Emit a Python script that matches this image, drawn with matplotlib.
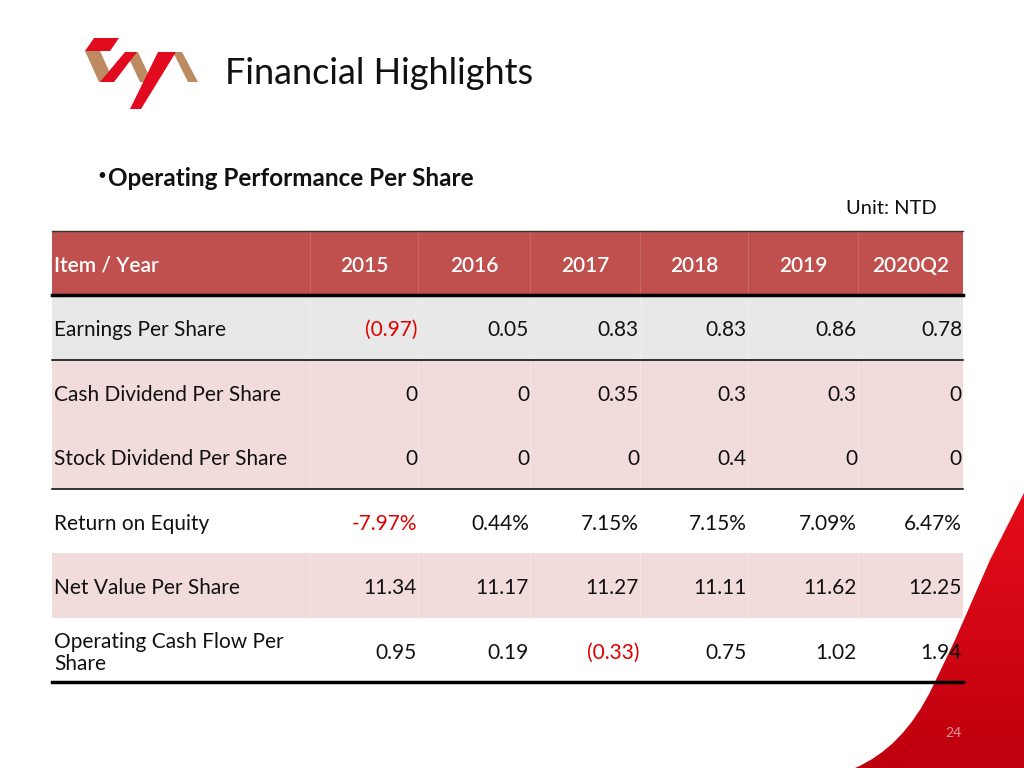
import matplotlib
matplotlib.use("Agg")
import matplotlib.pyplot as plt
from matplotlib.patches import Rectangle, Polygon, PathPatch
from matplotlib.path import Path
from matplotlib.colors import LinearSegmentedColormap
import numpy as np

plt.rcParams['font.family'] = ['Lato', 'DejaVu Sans']

title = "Financial Highlights"
subtitle = "Operating Performance Per Share"
unit = "Unit: NTD"
page = "24"

header_label = "Item / Year"
years = ["2015", "2016", "2017", "2018", "2019", "2020Q2"]
items = ["Earnings Per Share", "Cash Dividend Per Share", "Stock Dividend Per Share",
         "Return on Equity", "Net Value Per Share", "Operating Cash Flow Per\nShare"]
eps = ["(0.97)", "0.05", "0.83", "0.83", "0.86", "0.78"]
cash_div = ["0", "0", "0.35", "0.3", "0.3", "0"]
stock_div = ["0", "0", "0", "0.4", "0", "0"]
roe = ["-7.97%", "0.44%", "7.15%", "7.15%", "7.09%", "6.47%"]
nav = ["11.34", "11.17", "11.27", "11.11", "11.62", "12.25"]
ocf = ["0.95", "0.19", "(0.33)", "0.75", "1.02", "1.94"]
values = [eps, cash_div, stock_div, roe, nav, ocf]

fig = plt.figure(figsize=(10.24, 7.68), dpi=100)
ax = fig.add_axes([0, 0, 1, 1])
ax.set_xlim(0, 1024)
ax.set_ylim(768, 0)
ax.axis('off')

# table geometry
x0, x1 = 52, 963
col_edges = [52, 310, 418, 530, 640, 748, 858, 963]
header_top, header_bot = 231, 295
row_edges = [295, 359.5, 424, 488.5, 553, 617.5, 682]
row_fill = ['#E8E8E8', '#F2DCDB', '#F2DCDB', '#FFFFFF', '#F2DCDB', '#FFFFFF']

ax.add_patch(Rectangle((x0, header_top), x1 - x0, header_bot - header_top,
                       facecolor='#C0504D', edgecolor='none', zorder=1))
for i in range(len(items)):
    ax.add_patch(Rectangle((x0, row_edges[i]), x1 - x0, row_edges[i + 1] - row_edges[i],
                           facecolor=row_fill[i], edgecolor='none', zorder=1))
for xe in col_edges[1:-1]:
    ax.plot([xe, xe], [header_top, header_bot], color='#CB6663', lw=0.8, zorder=1.5)
    for i in range(len(items)):
        if row_fill[i] != '#FFFFFF':
            ax.plot([xe, xe], [row_edges[i], row_edges[i + 1]],
                    color='#F5E6E6' if row_fill[i] == '#F2DCDB' else '#EDEDED', lw=0.8, zorder=1.5)

# red decoration bottom right with gradient (above fills, below rules and text)
verts = [(1024, 493), (990, 560), (955, 640), (933, 686),
         (912, 730), (885, 755), (855, 768), (1024, 768), (1024, 493)]
codes = [Path.MOVETO, Path.LINETO, Path.LINETO, Path.LINETO,
         Path.CURVE4, Path.CURVE4, Path.CURVE4, Path.LINETO, Path.CLOSEPOLY]
patch = PathPatch(Path(verts, codes), facecolor='none', edgecolor='none')
ax.add_patch(patch)
grad = np.linspace(0, 1, 256).reshape(-1, 1)
cmap = LinearSegmentedColormap.from_list('r', ['#E60C1A', '#BE000E'])
im = ax.imshow(grad, cmap=cmap, extent=[850, 1024, 768, 490], aspect='auto', zorder=2)
im.set_clip_path(patch)

# horizontal rules
ax.plot([x0, x1], [header_top, header_top], color='#333333', lw=1.0, zorder=3)
ax.plot([x0, x1], [header_bot, header_bot], color='black', lw=2.5, zorder=3)
ax.plot([x0, x1], [row_edges[1], row_edges[1]], color='black', lw=1.1, zorder=3)
ax.plot([x0, x1], [row_edges[3], row_edges[3]], color='black', lw=1.1, zorder=3)
ax.plot([x0, x1], [row_edges[-1], row_edges[-1]], color='black', lw=2.5, zorder=3)

# logo
gold = '#BC8B62'
red = '#E20A1E'
gold_shapes = [
    [(85, 51), (100, 51), (114, 82), (99, 82)],
    [(126, 52), (138, 52), (152, 82), (140, 82)],
    [(173, 52), (182, 52), (198, 82), (188, 82)],
]
red_shapes = [
    [(85, 51), (94, 38), (119, 38), (110, 51)],
    [(100, 82), (114, 82), (137, 52), (125, 52)],
    [(158, 52), (176, 52), (141, 109), (130, 109)],
]
for pts in gold_shapes:
    ax.add_patch(Polygon(pts, closed=True, facecolor=gold, edgecolor='none', zorder=2))
for pts in red_shapes:
    ax.add_patch(Polygon(pts, closed=True, facecolor=red, edgecolor='none', zorder=2.5))

ax.text(225, 73, title, fontsize=26, color='#111111', va='center', ha='left')
ax.text(97, 176, "•", fontsize=11, color='#111111', va='center', ha='left')
ax.text(108, 178, subtitle, fontsize=17.5, fontweight='bold', color='#111111', va='center', ha='left')
ax.text(937, 208, unit, fontsize=14.5, color='#111111', va='center', ha='right')
ax.text(953, 733, page, fontsize=10, color='#D99A9A', va='center', ha='center', zorder=4)

fs = 15
hy = (header_top + header_bot) / 2 + 3
ax.text(54, hy, header_label, fontsize=fs, color='white', fontweight='semibold', va='center', ha='left', zorder=4)
for j, y in enumerate(years):
    cx = (col_edges[j + 1] + col_edges[j + 2]) / 2
    ax.text(cx, hy, y, fontsize=fs, color='white', fontweight='semibold', va='center', ha='center', zorder=4)

for i, (label, vals) in enumerate(zip(items, values)):
    cy = (row_edges[i] + row_edges[i + 1]) / 2 + 3
    ax.text(54, cy, label, fontsize=fs, color='#111111', va='center', ha='left',
            linespacing=1.15, zorder=4)
    for j, v in enumerate(vals):
        neg = v.startswith('(') or v.startswith('-')
        ax.text(col_edges[j + 2] - 1, cy, v, fontsize=fs, color='#E00000' if neg else '#111111',
                va='center', ha='right', zorder=4)

fig.savefig('out.png', dpi=100)
